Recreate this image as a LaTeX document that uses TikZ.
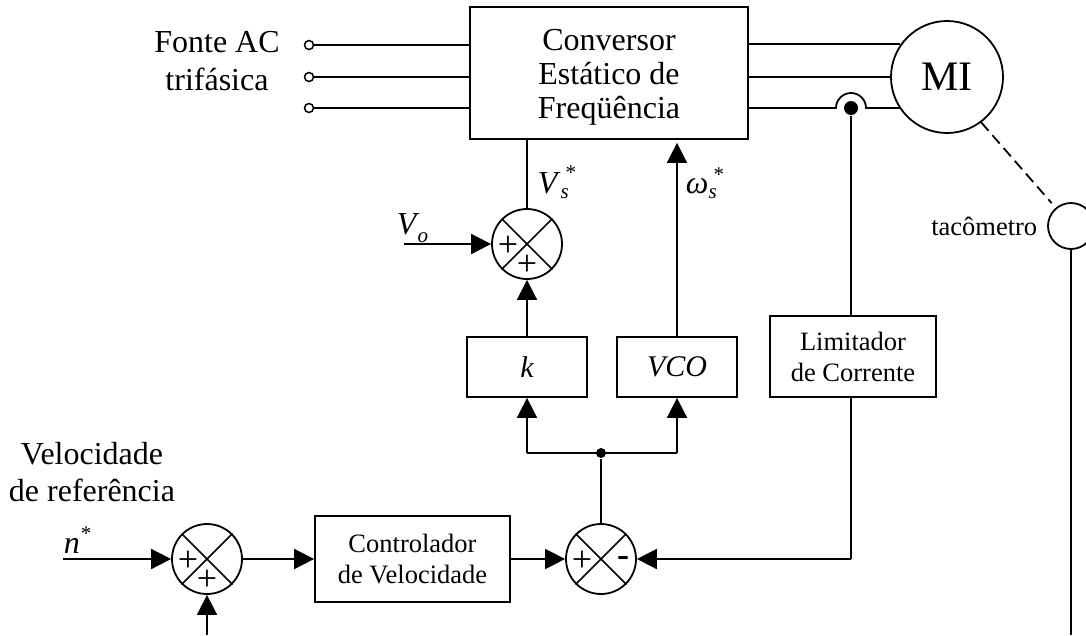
\documentclass[tikz,border=0pt]{standalone}
\usepackage{fontspec}
\setmainfont{Liberation Serif}
\usetikzlibrary{arrows.meta, positioning}
\newcommand{\indexmark}[2]{\raisebox{#1}{\fontsize{21}{21}\selectfont #2}}

\begin{document}
\begin{tikzpicture}[x=1pt, y=-1pt, line width=1.8pt]
	\tikzstyle{Block} = [rectangle, text centered, draw=black, fill=white, align=center, inner sep=0pt]
	\tikzstyle{SmallBlock} = [Block, font=\fontsize{26.5}{31}\selectfont]
	\tikzstyle{GainBlock} = [Block, minimum width=120pt, minimum height=60pt, font=\fontsize{30}{30}\itshape]
	\tikzstyle{Sum} = [circle, minimum size=70pt, inner sep=0pt, draw=black, fill=white]
	\tikzstyle{Terminal} = [circle, minimum size=9pt, inner sep=0pt, line width=1.5pt, draw=black, fill=white]
	\tikzstyle{Dot} = [circle, inner sep=0pt, fill=black]
	\tikzstyle{Sign} = [inner sep=0pt, font=\fontsize{36}{36}\selectfont]
	\tikzstyle{Label} = [inner sep=0pt, align=center, font=\fontsize{32}{38}\selectfont]
	\tikzstyle{arrow} = [-{Triangle[length=20pt,width=20pt]}]
	
	\useasboundingbox (0,0) rectangle (1086,635);
	
	\node (conv) [Block, minimum width=278pt, minimum height=132pt, font=\fontsize{32}{34}\selectfont] at (609,73) {\rule{0pt}{30pt}Conversor\\Estático de\\Freqüência};
	\node (motor) [circle, minimum size=112pt, inner sep=0pt, draw=black, fill=white, font=\fontsize{42}{42}\selectfont] at (947,77) {MI};
	\node (tach) [circle, minimum size=46pt, inner sep=0pt, draw=black, fill=white] at (1071,226) {};
	\node (tachLabel) [left = 9pt of tach, inner sep=0pt, font=\fontsize{26.5}{30}\selectfont] {tacômetro};
	
	\node (term1) [Terminal] at (309,45) {};
	\node (term2) [Terminal, below = 21.5pt of term1] {};
	\node (term3) [Terminal, below = 20.5pt of term2] {};
	\node (source) [Label] at (217,61) {Fonte AC\\trifásica};
	
	\node (sumV) [Sum] at (527,244) {};
	\node (k) [GainBlock, below = 56.2pt of sumV] {k};
	\node (vco) [GainBlock, right = 28.2pt of k] {VCO};
	\node (limit) [SmallBlock, right = 31.2pt of vco.south east, anchor=south west, minimum width=166pt, minimum height=81pt] {Limitador\\de Corrente};
	
	\node (sumN) [Sum] at (207,559) {};
	\node (ctrl) [SmallBlock, right = 71.2pt of sumN, minimum width=195pt, minimum height=86pt] {Controlador\\de Velocidade};
	\node (sumE) [Sum, right = 54.2pt of ctrl] {};
	\node (ref) [Label, font=\fontsize{32}{37}\selectfont] at (92,472) {Velocidade\\de referência};
	
	\node (hop) [Dot, minimum size=14pt] at (851,108) {};
	\node (split) [Dot, minimum size=10pt] at (sumE |- 0,453) {};
	
	\coordinate (voIn) at (404,244);
	\coordinate (nIn) at (63,559);
	\coordinate (tachEnd) at (1071,635);
	\coordinate (feedEnd) at (207,635);
	
	% fases
	\draw (term1) -- (term1 -| conv.west);
	\draw (term2) -- (term2 -| conv.west);
	\draw (term3) -- (term3 -| conv.west);
	\draw (conv.east |- motor.145) -- (motor.145);
	\draw (conv.east |- motor.west) -- (motor.west);
	\draw (conv.east |- hop) -- ([xshift=-15pt]hop.center) arc[start angle=180, end angle=0, radius=15pt] -- (motor.214 |- hop);
	
	\draw[dash pattern=on 11pt off 6pt, shorten >=6pt] (motor.-53) -- (tach.130);
	\draw (tach) -- (tachEnd);
	
	\draw (sumV.north) -- (sumV.north |- conv.south);
	\draw[arrow] (voIn) -- (sumV);
	\draw[arrow] (k) -- (sumV);
	\draw[arrow, shorten >=3pt] (vco) -- (vco |- conv.south);
	\draw[arrow] (split -| k) -- (k);
	\draw[arrow] (split -| vco) -- (vco);
	\draw (split -| k) -- (split -| vco);
	\draw (sumE) -- (split);
	
	\draw (hop) -- (hop |- limit.north);
	\draw (hop |- limit.south) -- (hop |- sumE);
	\draw[arrow] (hop |- sumE) -- (sumE);
	
	\draw[arrow] (nIn) -- (sumN);
	\draw[arrow] (feedEnd) -- (sumN);
	\draw[arrow] (sumN) -- (ctrl);
	\draw[arrow] (ctrl) -- (sumE);
	
	\foreach \s in {sumV, sumN, sumE} {
		\draw[line width=1.6pt] (\s.45) -- (\s.225);
		\draw[line width=1.6pt] (\s.135) -- (\s.315);
	}
	
	\node (sumVa) [Sign] at ([xshift=-19pt, yshift=-2pt]sumV.center) {+};
	\node (sumVb) [Sign] at ([yshift=-21pt]sumV.center) {+};
	\node (sumNa) [Sign] at ([xshift=-19pt, yshift=-2pt]sumN.center) {+};
	\node (sumNb) [Sign] at ([yshift=-21pt]sumN.center) {+};
	\node (sumEa) [Sign] at ([xshift=-19pt, yshift=-2pt]sumE.center) {+};
	\node (sumEb) [Sign] at ([xshift=22pt, yshift=-2pt]sumE.center) {\textbf{-}};
	
	\node (vsLabel) [Label, anchor=base west] at (537,193) {\textit{V}\indexmark{-5pt}{\textit{s}}\kern-3pt\indexmark{14pt}{*}};
	\node (wsLabel) [Label, anchor=base west] at (685,193) {\textit{ω}\indexmark{-5pt}{\textit{s}}\kern-3pt\indexmark{12pt}{*}};
	\node (voLabel) [Label, anchor=base west] at (396,234) {\textit{V}\kern-2pt\indexmark{-8pt}{\textit{o}}};
	\node (nLabel) [Label, anchor=base west] at (63,553) {\textit{n}\kern1pt\indexmark{13pt}{*}};
\end{tikzpicture}
\end{document}
